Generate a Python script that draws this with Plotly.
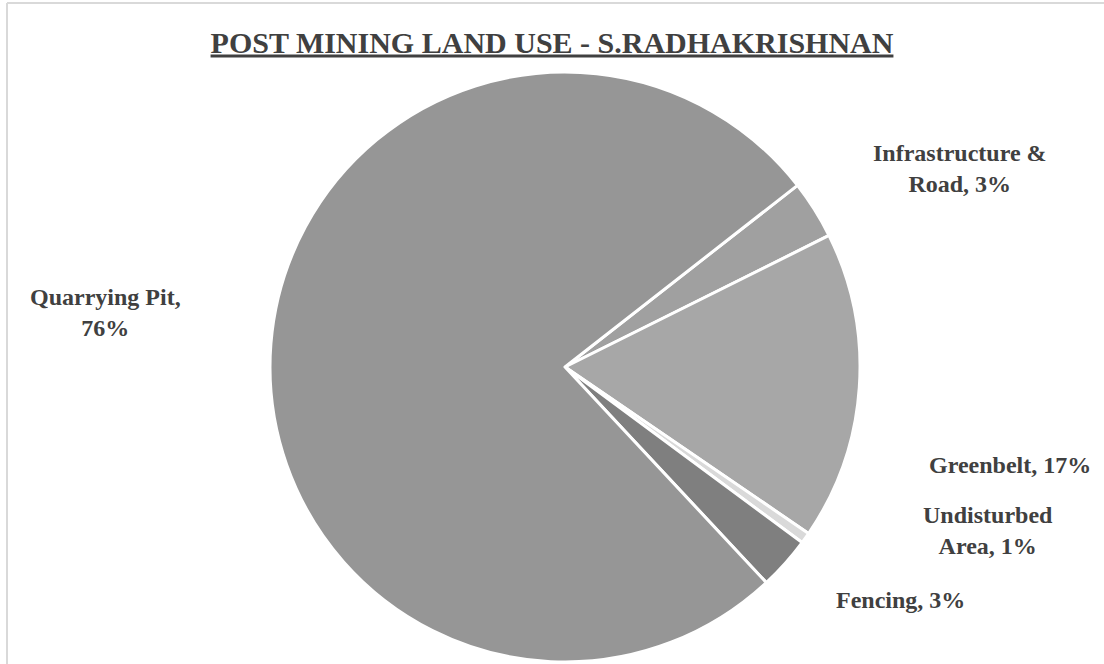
import plotly.graph_objects as go

# land use shares (%), clockwise from the Infrastructure slice
labels = ["Infrastructure & Road", "Greenbelt", "Undisturbed Area", "Fencing", "Quarrying Pit"]
values = [3.2, 16.9, 0.6, 2.9, 76.4]
colors = ["#a0a0a0", "#a7a7a7", "#d9d9d9", "#7f7f7f", "#969696"]

# label text as shown beside each slice (with manual line breaks)
label_text = ["Infrastructure &<br>Road", "Greenbelt", "Undisturbed<br>Area", "Fencing", "Quarrying Pit,<br>"]
label_pos = [(960, 168), (1010, 465), (988, 530), (900, 600), (105, 312)]

W, H = 1104, 664
cx, cy, r = 565, 367, 295
serif = 'Liberation Serif, Times New Roman, serif'

fig = go.Figure()
fig.add_trace(go.Pie(
    labels=labels,
    values=values,
    sort=False,
    direction='clockwise',
    rotation=52,
    marker=dict(colors=colors, line=dict(color='white', width=3)),
    textinfo='none',
    hoverinfo='label+percent',
    showlegend=False,
    domain=dict(x=[(cx - r) / W, (cx + r) / W], y=[(H - cy - r) / H, (H - cy + r) / H]),
))

total = sum(values)
for name, txt, (x, y), v in zip(labels, label_text, label_pos, values):
    pct = '{:.0f}%'.format(v / total * 100)
    if txt.endswith('<br>'):
        text = txt + pct
    else:
        text = txt + ', ' + pct
    fig.add_annotation(
        x=x / W, y=1 - y / H, xref='paper', yref='paper',
        text='<b>' + text + '</b>', showarrow=False,
        font=dict(family=serif, size=24, color='#404040'),
        align='center', xanchor='center', yanchor='middle',
    )

fig.update_layout(
    width=W, height=H,
    margin=dict(l=0, r=0, t=0, b=0),
    paper_bgcolor='white',
    plot_bgcolor='white',
    title=dict(
        text='<b><u>POST MINING LAND USE - S.RADHAKRISHNAN</u></b>',
        x=0.5, y=1 - 42 / H, xanchor='center', yanchor='middle',
        font=dict(family=serif, size=30, color='#404040'),
    ),
    shapes=[
        dict(type='line', xref='paper', yref='paper', x0=7 / W, x1=7 / W, y0=0, y1=1 - 3 / H,
             line=dict(color='#d9d9d9', width=2)),
        dict(type='line', xref='paper', yref='paper', x0=7 / W, x1=1, y0=1 - 3 / H, y1=1 - 3 / H,
             line=dict(color='#d9d9d9', width=2)),
    ],
)

fig.write_html("out.html", config={'displayModeBar': False},
               post_script="document.body.style.margin='0';")
